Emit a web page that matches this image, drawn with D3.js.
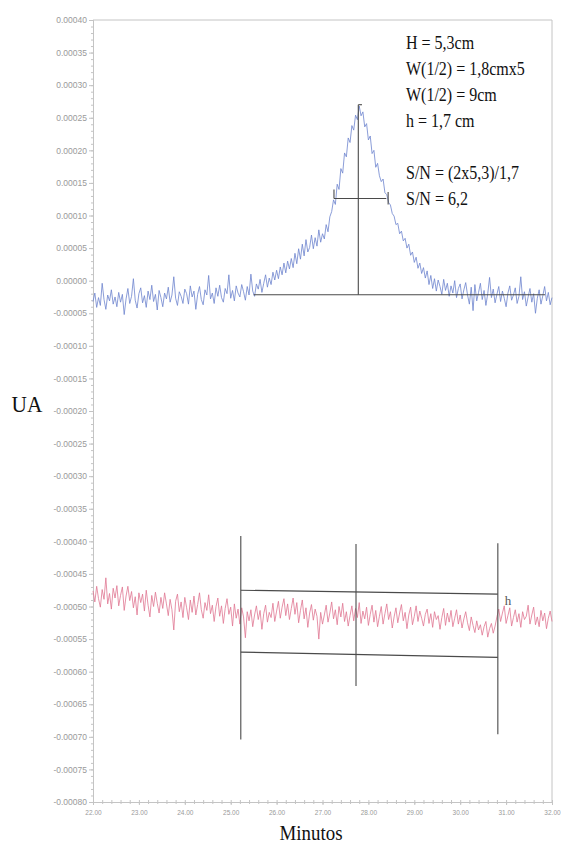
<!DOCTYPE html>
<html>
<head>
<meta charset="utf-8">
<script src="https://cdn.jsdelivr.net/npm/d3@7"></script>
<style>
  html, body { margin: 0; background: #fff; }
  svg { display: block; }
</style>
</head>
<body>
<svg id="chart" width="562" height="848"></svg>
<script>
// Detector signal, sampled every 0.04 min from 22.00 min; values in units of 1e-5 UA
const timeStart = 22;
const timeStep = 0.04;

const blueSignal = [
  -3.2, -1.9, -4.1, -2.6, -3.8, -0.4, -2.9, -4.4, -2.2, -3.1,
  -1.4, -3.6, -2.5, -4.0, -1.8, -3.3, -2.1, -5.2, -2.8, -1.2,
  -3.5, -2.4, 0.3, -3.0, -4.2, -2.0, -1.1, -3.4, -2.3, -4.1,
  -1.6, -2.9, -0.7, -3.2, -2.1, -4.5, -1.5, -2.6, -4.0, -1.9,
  -2.8, -1.0, -3.3, -2.2, 0.6, -2.7, -3.8, -1.7, -2.4, -3.5,
  -1.3, -2.0, -3.6, -0.8, -2.5, -1.6, -4.4, -2.1, -0.9, -2.9,
  -3.7, -1.4, -2.2, 0.8, -2.8, -1.9, -3.5, -1.1, -2.4, -0.7,
  -2.6, -3.3, -1.2, -2.0, 0.9, -2.7, -1.5, -3.1, -0.8, -1.9,
  -2.5, -0.6, -1.7, -3.0, -0.9, -2.2, 1.0, -1.6, -2.4, -0.5,
  -1.3, 0.2, -1.8, -0.4, 0.9, -1.0, 0.4, -0.6, 1.3, 0.1,
  1.6, 0.3, 2.1, 0.9, 2.7, 1.2, 3.0, 1.8, 3.4, 2.0,
  4.2, 2.6, 4.9, 3.3, 5.6, 3.8, 6.3, 4.4, 5.1, 7.0,
  4.9, 6.6, 5.3, 7.8, 5.9, 7.2, 6.4, 8.6, 7.5, 9.8,
  10.6, 12.4, 11.7, 14.8, 14.0, 17.2, 16.5, 19.6, 19.0, 21.9,
  21.2, 23.8, 23.1, 25.4, 24.7, 26.8, 25.3, 25.9, 23.6, 24.1,
  21.6, 22.2, 19.5, 20.0, 17.4, 18.0, 16.1, 15.2, 15.6, 13.5,
  13.2, 12.0, 11.6, 10.3, 9.9, 8.6, 8.8, 7.2, 7.6, 6.1,
  6.5, 5.0, 5.6, 3.9, 4.4, 2.8, 3.6, 1.9, 2.7, 1.1,
  2.0, 0.4, 1.5, -0.6, 0.8, -1.2, 0.3, -1.6, 0.1, -0.9,
  -2.1, 0.2, -1.5, -0.4, -2.4, -0.8, -1.9, 0.0, -2.6, -1.2,
  -0.5, -2.8, -1.4, -0.3, -2.2, -3.6, -1.0, -4.6, -0.6, -3.1,
  -1.8, -0.4, -2.9, -1.5, -3.8, -2.0, 0.5, -2.6, -1.3, -3.4,
  -2.1, -0.9, -3.2, -1.6, -2.7, -4.0, -1.9, -0.8, -3.0, -2.2,
  -1.1, -3.5, -2.4, 0.6, -2.9, -1.7, -3.9, -2.5, -1.2, -3.3,
  -2.0, -5.0, -2.7, -1.4, -3.6, -2.3, -0.9, -3.1, -1.8, -3.7,
  -2.6
];

const redSignal = [
  -47.6, -49.3, -46.9, -48.8, -50.1, -47.4, -48.9, -45.6, -49.6, -48.0,
  -50.4, -47.2, -48.7, -46.8, -49.9, -48.3, -47.0, -50.6, -48.4, -46.9,
  -49.1, -47.7, -50.2, -48.5, -51.3, -47.9, -49.4, -48.1, -50.7, -47.5,
  -49.8, -51.6, -48.3, -50.0, -47.8, -49.5, -51.0, -48.6, -50.3, -47.9,
  -49.6, -51.4, -48.9, -50.5, -53.6, -49.2, -48.1, -50.8, -49.3, -51.7,
  -48.6, -50.2, -52.0, -49.0, -50.9, -48.4, -51.3, -49.7, -47.9, -50.5,
  -51.8, -49.4, -50.6, -48.2, -51.1, -49.8, -52.3, -50.0, -48.7, -51.5,
  -49.9, -52.6, -50.3, -48.8, -51.2, -50.1, -53.0, -49.6, -51.8, -50.4,
  -52.7, -50.2, -51.6, -54.8, -50.8, -52.2, -50.5, -53.1, -51.3, -49.9,
  -52.0, -50.6, -53.5, -51.1, -49.8, -52.4, -50.9, -51.7, -49.5, -52.3,
  -50.7, -49.2, -51.8, -50.1, -48.8, -51.4, -49.6, -52.0, -50.3, -48.7,
  -51.2, -49.4, -52.5, -50.6, -49.0, -51.9, -50.2, -53.2, -51.0, -49.7,
  -52.1, -50.4, -51.5, -55.0, -50.9, -52.7, -51.3, -49.8, -52.4, -51.0,
  -49.3, -51.9, -50.5, -52.8, -50.0, -51.6, -49.5, -52.3, -50.8, -53.0,
  -51.4, -49.9, -52.2, -50.3, -51.7, -49.4, -52.6, -50.7, -51.9, -50.1,
  -52.9, -51.2, -49.8, -52.4, -50.6, -53.1, -51.5, -50.0, -52.7, -51.1,
  -49.6, -52.0, -50.8, -53.3, -51.6, -50.2, -52.5, -51.0, -49.7, -52.2,
  -50.9, -53.4, -51.3, -50.1, -52.8, -51.5, -49.9, -52.3, -50.7, -51.8,
  -53.0, -51.2, -50.4, -52.6, -51.1, -53.2, -50.8, -52.0, -51.4, -53.5,
  -51.7, -50.3, -52.9, -51.0, -52.4, -50.6, -53.1, -51.8, -50.5, -52.7,
  -51.3, -53.3, -51.9, -50.8, -52.5, -53.7, -51.6, -52.9, -54.0, -52.2,
  -53.6, -52.8, -54.4, -53.1, -52.3, -54.7, -53.4, -52.6, -54.1, -53.0,
  -51.6, -50.4, -52.3, -51.0, -49.9, -52.6, -51.4, -50.2, -53.0, -51.7,
  -50.5, -52.4, -51.1, -53.2, -50.8, -52.0, -51.5, -49.8, -52.7, -51.3,
  -50.1, -52.8, -51.6, -53.1, -50.6, -52.2, -51.0, -53.4, -51.8, -50.7,
  -52.3
];

// Axis ticks: minutes and UA (in 1e-5 units)
const xTicks = [22, 23, 24, 25, 26, 27, 28, 29, 30, 31, 32];
const yTicks = [40, 35, 30, 25, 20, 15, 10, 5, 0, -5, -10, -15, -20, -25, -30,
                -35, -40, -45, -50, -55, -60, -65, -70, -75, -80];

// Hand-drawn measurement lines on the peak: [t1, v1, t2, v2]
const peakMarks = [
  [25.50, -2.15, 31.85, -2.15],   // baseline under the peak
  [27.78, -2.15, 27.78, 27.0],    // peak height H
  [27.78, 27.0, 27.86, 27.0],
  [27.25, 12.6, 28.39, 12.6],     // width at half height
  [27.25, 12.6, 27.25, 14.0],
  [28.43, 11.7, 28.43, 13.6]
];

// Noise band drawn over the blank trace: [t1, v1, t2, v2]
const noiseMarks = [
  [25.22, -39.2, 25.22, -70.4],
  [27.73, -40.4, 27.73, -62.2],
  [30.82, -40.3, 30.82, -69.6],
  [25.22, -47.5, 30.82, -48.1],
  [25.22, -57.0, 30.82, -57.8]
];
const noiseLabel = { t: 30.97, v: -49.8, text: "h" };

const notes = ["H = 5,3cm", "W(1/2) = 1,8cmx5", "W(1/2) = 9cm", "h = 1,7 cm", "",
               "S/N = (2x5,3)/1,7", "S/N = 6,2"];

const svg = d3.select("#chart");
const x = d3.scaleLinear().domain([22, 32]).range([93, 552]);
const y = d3.scaleLinear().domain([-80, 40]).range([802, 20]);
const axisGray = "#c4c4c4";
const labelGray = "#9a9a9a";

// plot frame: top and right edges
svg.append("line")
  .attr("x1", x(22)).attr("x2", x(32)).attr("y1", y(40)).attr("y2", y(40))
  .attr("stroke", axisGray).attr("stroke-width", 1);
svg.append("line")
  .attr("x1", x(32)).attr("x2", x(32)).attr("y1", y(40)).attr("y2", y(-80))
  .attr("stroke", axisGray).attr("stroke-width", 1);

function styleAxis(g) {
  g.select(".domain").attr("stroke", axisGray);
  g.selectAll(".tick line").attr("stroke", axisGray);
  g.selectAll(".tick text").attr("fill", labelGray)
    .attr("font-family", "Liberation Sans, Arial, sans-serif");
}

// y axis with minor ticks
svg.append("g").attr("transform", `translate(${x(22)},0)`)
  .call(d3.axisLeft(y).tickValues(d3.range(-80, 40.5, 1)).tickFormat("").tickSize(2))
  .call(styleAxis);
svg.append("g").attr("transform", `translate(${x(22)},0)`)
  .call(d3.axisLeft(y).tickValues(yTicks).tickFormat(d => (d * 1e-5).toFixed(5))
    .tickSize(4).tickPadding(2))
  .call(styleAxis)
  .call(g => g.selectAll(".tick text").attr("font-size", 8.5));

// x axis with minor ticks crossing the line
const minorX = d3.range(0, 51).map(i => 22 + i * 0.2);
svg.append("g").attr("transform", `translate(0,${y(-80)})`)
  .call(d3.axisBottom(x).tickValues(minorX).tickFormat("").tickSize(2))
  .call(styleAxis);
svg.append("g").attr("transform", `translate(0,${y(-80)})`)
  .call(d3.axisTop(x).tickValues(minorX).tickFormat("").tickSize(2))
  .call(styleAxis);
svg.append("g").attr("transform", `translate(0,${y(-80)})`)
  .call(d3.axisBottom(x).tickValues(xTicks).tickFormat(d => d.toFixed(2))
    .tickSize(3).tickPadding(5))
  .call(styleAxis)
  .call(g => g.selectAll(".tick text").attr("font-size", 6.5));

// traces
const line = d3.line()
  .x((d, i) => x(timeStart + i * timeStep))
  .y(d => y(d));

svg.append("path").datum(blueSignal)
  .attr("d", line).attr("fill", "none")
  .attr("stroke", "#7086cf").attr("stroke-width", 0.9).attr("stroke-opacity", 0.9);
svg.append("path").datum(redSignal)
  .attr("d", line).attr("fill", "none")
  .attr("stroke", "#e07893").attr("stroke-width", 0.9).attr("stroke-opacity", 0.9);

// measurement lines
const markG = svg.append("g").attr("stroke", "#4a4a4a").attr("stroke-width", 1.1);
markG.selectAll("line.peak").data(peakMarks).join("line").attr("class", "peak")
  .attr("x1", d => x(d[0])).attr("y1", d => y(d[1]))
  .attr("x2", d => x(d[2])).attr("y2", d => y(d[3]));
markG.selectAll("line.noise").data(noiseMarks).join("line").attr("class", "noise")
  .attr("x1", d => x(d[0])).attr("y1", d => y(d[1]))
  .attr("x2", d => x(d[2])).attr("y2", d => y(d[3]));

svg.append("text")
  .attr("x", x(noiseLabel.t)).attr("y", y(noiseLabel.v))
  .attr("font-family", "Liberation Serif, serif").attr("font-size", 13)
  .attr("fill", "#555").text(noiseLabel.text);

// calculation notes
const notesG = svg.append("g").attr("transform", "translate(406,0) scale(0.89,1)");
notesG.selectAll("text").data(notes).join("text")
  .attr("x", 0).attr("y", (d, i) => 49 + i * 26)
  .attr("font-family", "Liberation Serif, 'Times New Roman', serif")
  .attr("font-size", 18).attr("fill", "#111")
  .text(d => d);

// axis titles
svg.append("text")
  .attr("transform", "translate(27,412) scale(0.89,1)")
  .attr("text-anchor", "middle")
  .attr("font-family", "Liberation Serif, 'Times New Roman', serif")
  .attr("font-size", 24).attr("fill", "#111").text("UA");
svg.append("text")
  .attr("transform", "translate(311,840) scale(0.9,1)")
  .attr("text-anchor", "middle")
  .attr("font-family", "Liberation Serif, 'Times New Roman', serif")
  .attr("font-size", 21).attr("fill", "#111").text("Minutos");
</script>
</body>
</html>
